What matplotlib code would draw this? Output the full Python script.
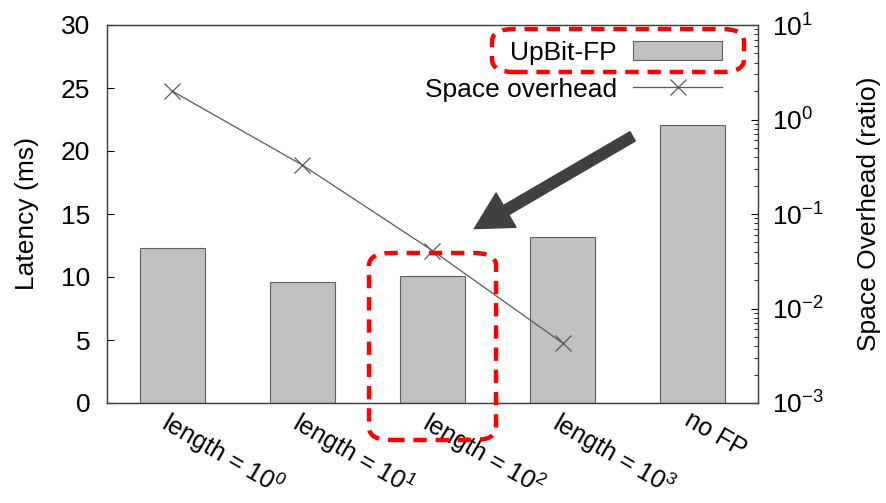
import matplotlib
matplotlib.use("Agg")
import matplotlib.pyplot as plt
from matplotlib.patches import FancyBboxPatch, FancyArrowPatch
from matplotlib.ticker import LogLocator, NullFormatter, FixedLocator

plt.rcParams['font.family'] = ['Liberation Sans', 'DejaVu Sans']
plt.rcParams['mathtext.fontset'] = 'custom'
plt.rcParams['mathtext.rm'] = 'Liberation Sans'
plt.rcParams['mathtext.it'] = 'Liberation Sans:italic'
plt.rcParams['axes.unicode_minus'] = False

categories = ["length = $10^0$", "length = $10^1$", "length = $10^2$",
              "length = $10^3$", "no FP"]
latency_ms = [12.3, 9.6, 10.1, 13.2, 22.1]
space_overhead = [2.0, 0.33, 0.041, 0.0043]
right_tick_labels = ["$10^{-3}$", "$10^{-2}$", "$10^{-1}$", "$10^{0}$", "$10^{1}$"]
right_tick_values = [1e-3, 1e-2, 1e-1, 1e0, 1e1]

FS = 19
W, H = 887, 503
fig = plt.figure(figsize=(W / 100, H / 100), dpi=100)
ax = fig.add_axes([107 / W, 1 - 403 / H, (758 - 107) / W, (403 - 25) / H])

x = list(range(len(categories)))
bars = ax.bar(x, latency_ms, width=0.5, color='#c0c0c0', edgecolor='#606060',
              linewidth=0.8, label='UpBit-FP', zorder=2)
ax.set_xlim(-0.5, 4.5)
ax.set_ylim(0, 30)
ax.set_yticks([0, 5, 10, 15, 20, 25, 30])
ax.tick_params(axis='y', direction='in', length=5, labelsize=FS, pad=12)
ax.set_xticks(x)
ax.set_xticklabels(categories, rotation=-30, ha='left', rotation_mode='anchor',
                   fontsize=18)
ax.tick_params(axis='x', length=0, pad=3)
ax.set_ylabel('Latency (ms)', fontsize=FS, labelpad=16)
for s in ax.spines.values():
    s.set_color('#404040')
    s.set_linewidth(0.9)

ax2 = ax.twinx()
line, = ax2.plot(x[:len(space_overhead)], space_overhead, color='#5a5a5a',
                 linewidth=0.9, marker='x', markersize=12, markeredgewidth=0.9,
                 label='Space overhead', zorder=3)
ax2.set_yscale('log')
ax2.set_ylim(1e-3, 1e1)
ax2.yaxis.set_major_locator(FixedLocator(right_tick_values))
ax2.set_yticklabels(right_tick_labels)
ax2.yaxis.set_minor_locator(LogLocator(base=10, subs=range(2, 10)))
ax2.yaxis.set_minor_formatter(NullFormatter())
ax2.tick_params(axis='y', which='major', direction='in', length=5, labelsize=FS, pad=10)
ax2.tick_params(axis='y', which='minor', direction='in', length=3)
ax2.set_ylabel('Space Overhead (ratio)', fontsize=FS, labelpad=24)
for s in ax2.spines.values():
    s.set_color('#404040')
    s.set_linewidth(0.9)

leg = ax2.legend([bars, line], ['UpBit-FP', 'Space overhead'], loc='upper right',
                 bbox_to_anchor=(733 / W, 1 - 30 / H), bbox_transform=fig.transFigure,
                 frameon=False, markerfirst=False, fontsize=FS, handlelength=3.4,
                 handleheight=0.75, labelspacing=0.5, handletextpad=0.6,
                 borderaxespad=0)

# highlight boxes
def red_box(x0, y0, x1, y1):
    box = FancyBboxPatch((x0 / W, 1 - y1 / H), (x1 - x0) / W, (y1 - y0) / H,
                         boxstyle="round,pad=0,rounding_size=0.025",
                         transform=fig.transFigure, fill=False, edgecolor='#ff0000',
                         linewidth=3.2, linestyle=(0, (3, 2)), clip_on=False, zorder=10)
    fig.patches.append(box)

red_box(492, 29, 744, 72)
red_box(369, 253, 496, 440)

fig.add_artist(FancyArrowPatch(
    (635 / W, 1 - 135 / H), (472 / W, 1 - 230 / H), transform=fig.transFigure,
    arrowstyle='simple,head_length=1.2,head_width=1.3,tail_width=0.35',
    mutation_scale=22, color='#404040', zorder=10))

fig.savefig('out.png', dpi=100)
